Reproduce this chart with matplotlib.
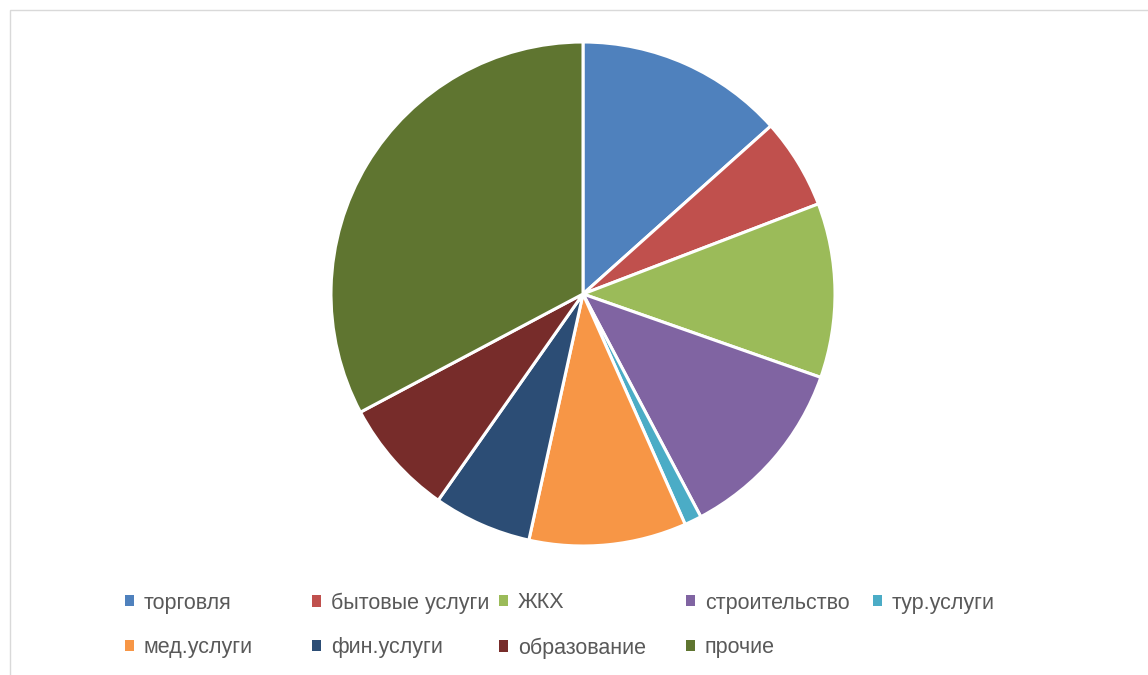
import matplotlib.pyplot as plt
from matplotlib.patches import Rectangle

labels = ["торговля", "бытовые услуги", "ЖКХ", "строительство", "тур.услуги",
          "мед.услуги", "фин.услуги", "образование", "прочие"]
values = [13.4, 5.8, 11.2, 11.9, 1.1, 10.1, 6.3, 7.5, 32.8]
colors = ["#4F81BD", "#C0504D", "#9BBB59", "#8064A2", "#4BACC6",
          "#F79646", "#2C4D75", "#772C2A", "#5F7530"]

W, H = 1148, 675
fig = plt.figure(figsize=(W / 100, H / 100), dpi=100)

# light chart-area border
fig.patches.append(Rectangle((10 / W, -0.01), 1.02, (H - 10) / H + 0.01,
                             transform=fig.transFigure, fill=False,
                             edgecolor="#D9D9D9", linewidth=1))

cx, cy, r = 583, H - 294, 252
ax = fig.add_axes([(cx - r) / W, (cy - r) / H, 2 * r / W, 2 * r / H])
wedges, _ = ax.pie(values, colors=colors, startangle=90, counterclock=False,
                   wedgeprops=dict(edgecolor="white", linewidth=2.2))
ax.set_xlim(-1, 1)
ax.set_ylim(-1, 1)
ax.set_aspect("equal")

# Excel-style legend: fixed-width grid, filled row by row
ncol = 5
col_x = [125, 312, 499, 686, 873]
row_y = [603, 648]
for i, lab in enumerate(labels):
    x = col_x[i % ncol]
    y = row_y[i // ncol]
    leg = fig.legend([wedges[i]], [lab], loc="center left",
                     bbox_to_anchor=(x / W, (H - y) / H),
                     frameon=False, prop={"family": "Liberation Sans", "size": 15.5},
                     handlelength=0.42, handleheight=0.42, handletextpad=0.45,
                     borderpad=0, borderaxespad=0)
    for t in leg.get_texts():
        t.set_color("#595959")
    for h in leg.legend_handles:
        h.set_edgecolor("none")

fig.savefig("out.png", dpi=100)
